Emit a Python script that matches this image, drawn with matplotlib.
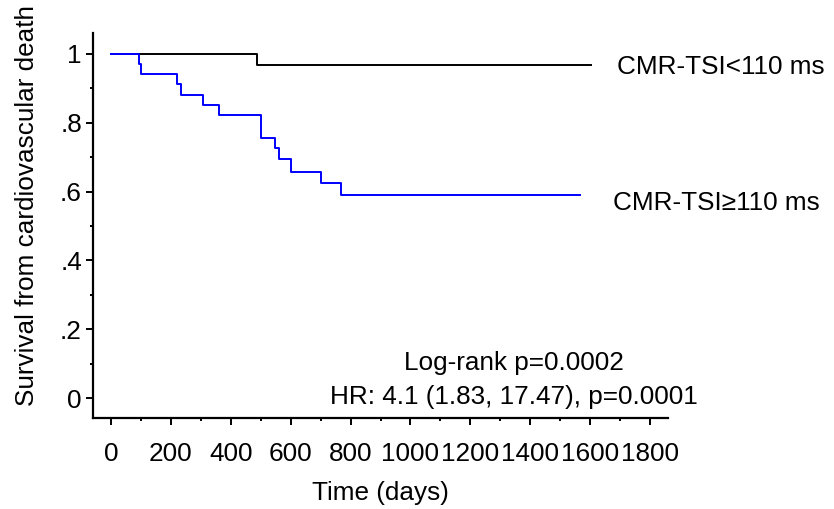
"""
Kaplan-Meier style survival curves by CMR-TSI group.
"""

import matplotlib
matplotlib.use("Agg")
import matplotlib.pyplot as plt
from matplotlib.ticker import MultipleLocator, FixedLocator

# Data (days, survival fraction)
times_low = [0, 487, 1602]
surv_low = [1.0, 0.968, 0.968]

times_high = [0, 95, 99, 222, 233, 308, 362, 501, 548, 561, 600, 700, 767, 1566]
surv_high = [1.0, 0.971, 0.941, 0.912, 0.882, 0.853, 0.824, 0.757, 0.728,
             0.694, 0.658, 0.624, 0.589, 0.589]

label_low = "CMR-TSI<110 ms"
label_high = "CMR-TSI\u2265110 ms"
stats_lines = ["Log-rank p=0.0002", "HR: 4.1 (1.83, 17.47), p=0.0001"]

x_ticks = [0, 200, 400, 600, 800, 1000, 1200, 1400, 1600, 1800]
y_ticks = [0, 0.2, 0.4, 0.6, 0.8, 1.0]
y_tick_labels = ["0", ".2", ".4", ".6", ".8", "1"]

plt.rcParams['font.family'] = ['Liberation Sans', 'DejaVu Sans']
FS = 18.8

W, H = 834, 509
fig = plt.figure(figsize=(W / 100, H / 100), dpi=100)

# axes box in pixels: x 93..668, y 33..418
ax = fig.add_axes([93 / W, (H - 418) / H, (668 - 93) / W, (418 - 33) / H])

ax.step(times_low, surv_low, where='post', color='black', linewidth=1.4)
ax.step(times_high, surv_high, where='post', color='#0000FF', linewidth=1.4)

ax.set_xlim(-60, 1860)
ax.set_ylim(-0.058, 1.061)

for side in ['top', 'right']:
    ax.spines[side].set_visible(False)
for side in ['left', 'bottom']:
    ax.spines[side].set_linewidth(1.6)

ax.xaxis.set_major_locator(FixedLocator(x_ticks))
ax.xaxis.set_minor_locator(FixedLocator([t + 100 for t in x_ticks[:-1]]))
ax.set_xticklabels([str(t) for t in x_ticks])
ax.yaxis.set_major_locator(FixedLocator(y_ticks))
ax.yaxis.set_minor_locator(MultipleLocator(0.1))
ax.set_yticklabels(y_tick_labels)

ax.tick_params(axis='x', which='major', length=5, width=1.4, pad=12, labelsize=FS)
ax.tick_params(axis='x', which='minor', length=2.5, width=1.4)
ax.tick_params(axis='y', which='major', length=5, width=1.4, pad=3, labelsize=FS)
ax.tick_params(axis='y', which='minor', length=2.5, width=1.4)

# group labels to the right of the curves
ax.text(1690, 0.962, label_low, fontsize=FS, ha='left', va='center', clip_on=False)
ax.text(1677, 0.567, label_high, fontsize=FS, ha='left', va='center', clip_on=False)

# statistics
ax.text(1346, 0.102, stats_lines[0], fontsize=FS, ha='center', va='center')
ax.text(1346, 0.003, stats_lines[1], fontsize=FS, ha='center', va='center')

fig.text(27 / W, 1 - 205 / H, "Survival from cardiovascular death", fontsize=FS,
         rotation=90, ha='center', va='center')
fig.text(380 / W, 1 - 493 / H, "Time (days)", fontsize=FS, ha='center', va='center')

fig.savefig("out.png", dpi=100)
